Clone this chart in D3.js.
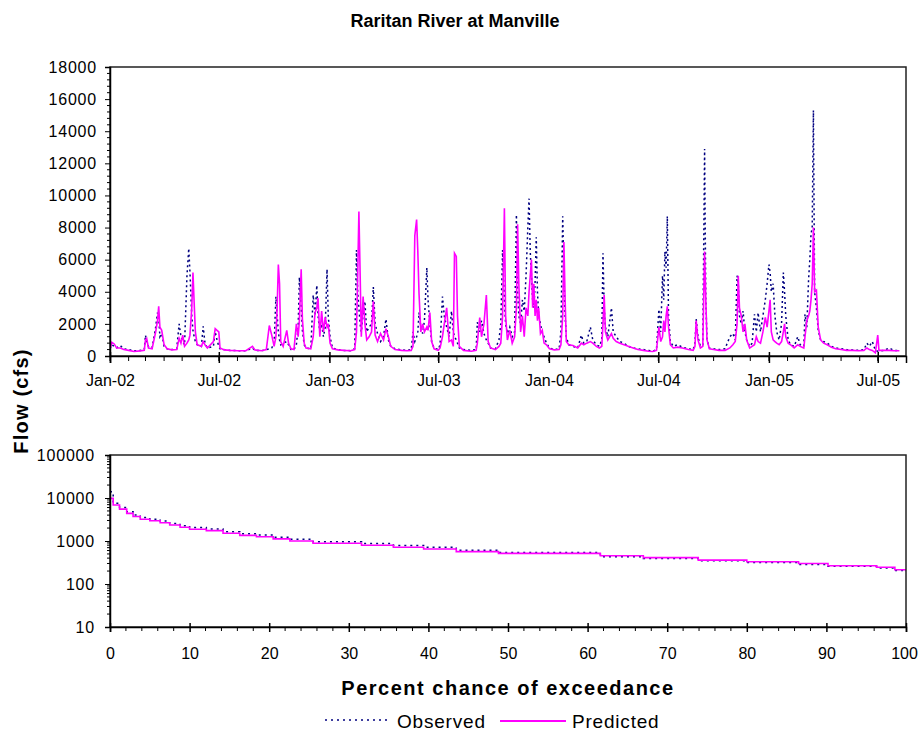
<!DOCTYPE html>
<html>
<head>
<meta charset="utf-8">
<script src="https://cdnjs.cloudflare.com/ajax/libs/d3/7.8.5/d3.min.js"></script>
<style>
  body { margin: 0; background: #fff; }
  svg { display: block; font-family: "Liberation Sans", Arial, sans-serif; }
  .axis path, .axis line { stroke: #000; }
  .axis text { font-size: 16px; fill: #000; }
  .axis.left text { letter-spacing: 0.8px; }
</style>
</head>
<body>
<div id="chart"></div>
<script>
// ---- data ----
var chartTitle = "Raritan River at Manville";
var seriesNames = ["Observed", "Predicted"];

// daily flow hydrograph (cfs), sampled at the days where the shape changes
var dates = [
  // 2002
  "2002-01-01","2002-01-04","2002-01-08","2002-01-12","2002-01-18","2002-01-24","2002-02-01","2002-02-10","2002-02-20","2002-02-27",
  "2002-03-01","2002-03-03","2002-03-06","2002-03-12","2002-03-18","2002-03-21","2002-03-23","2002-03-25","2002-03-28","2002-04-01",
  "2002-04-06","2002-04-14","2002-04-22","2002-04-26","2002-04-29","2002-05-02","2002-05-05","2002-05-09","2002-05-12","2002-05-14",
  "2002-05-17","2002-05-19","2002-05-21","2002-05-23","2002-05-26","2002-06-02","2002-06-05","2002-06-08","2002-06-12","2002-06-22",
  "2002-06-25","2002-06-28","2002-07-01","2002-07-03","2002-07-10","2002-07-20","2002-08-01","2002-08-15","2002-08-26","2002-08-30",
  "2002-09-10","2002-09-18","2002-09-23","2002-09-27","2002-10-01","2002-10-04","2002-10-06","2002-10-08","2002-10-10","2002-10-12",
  "2002-10-16","2002-10-22","2002-10-25","2002-10-29","2002-11-03","2002-11-07","2002-11-10","2002-11-12","2002-11-15","2002-11-17",
  "2002-11-20","2002-11-23","2002-12-01","2002-12-05","2002-12-08","2002-12-11","2002-12-13","2002-12-16","2002-12-19","2002-12-22",
  "2002-12-25","2002-12-28","2002-12-30",
  // 2003
  "2003-01-02","2003-01-06","2003-01-15","2003-01-25","2003-02-05","2003-02-12","2003-02-15","2003-02-17","2003-02-19","2003-02-21",
  "2003-02-23","2003-02-26","2003-03-01","2003-03-04","2003-03-08","2003-03-12","2003-03-15","2003-03-18","2003-03-22","2003-03-27",
  "2003-04-01","2003-04-05","2003-04-09","2003-04-13","2003-04-20","2003-05-01","2003-05-10","2003-05-17","2003-05-20","2003-05-23",
  "2003-05-26","2003-05-28","2003-05-30","2003-06-02","2003-06-05","2003-06-08","2003-06-12","2003-06-14","2003-06-17","2003-06-20",
  "2003-06-24","2003-07-01","2003-07-04","2003-07-08","2003-07-11","2003-07-15","2003-07-19","2003-07-23","2003-07-26","2003-07-28",
  "2003-07-31","2003-08-02","2003-08-05","2003-08-12","2003-08-25","2003-09-02","2003-09-04","2003-09-08","2003-09-11","2003-09-15",
  "2003-09-19","2003-09-22","2003-09-26","2003-10-04","2003-10-10","2003-10-13","2003-10-16","2003-10-19","2003-10-21","2003-10-24",
  "2003-10-28","2003-11-01","2003-11-05","2003-11-08","2003-11-10","2003-11-12","2003-11-15","2003-11-18","2003-11-21","2003-11-24",
  "2003-11-27","2003-11-29","2003-12-01","2003-12-03","2003-12-05","2003-12-07","2003-12-09","2003-12-11","2003-12-13","2003-12-15",
  "2003-12-18","2003-12-21","2003-12-24","2003-12-28",
  // 2004
  "2004-01-02","2004-01-10","2004-01-18","2004-01-21","2004-01-24","2004-01-26","2004-01-28","2004-01-30","2004-02-03","2004-02-10",
  "2004-02-18","2004-02-24","2004-02-28","2004-03-04","2004-03-10","2004-03-14","2004-03-20","2004-03-25","2004-03-29","2004-03-31",
  "2004-04-02","2004-04-04","2004-04-08","2004-04-14","2004-04-17","2004-04-22","2004-04-28","2004-05-05","2004-05-12","2004-05-20",
  "2004-05-28","2004-06-06","2004-06-15","2004-06-22","2004-06-28","2004-07-02","2004-07-05","2004-07-08","2004-07-10","2004-07-12",
  "2004-07-14","2004-07-16","2004-07-18","2004-07-21","2004-07-26","2004-08-02","2004-08-10","2004-08-20","2004-08-28","2004-08-31",
  "2004-09-02","2004-09-05","2004-09-09","2004-09-13","2004-09-16","2004-09-18","2004-09-20","2004-09-24","2004-10-01","2004-10-10",
  "2004-10-20","2004-10-28","2004-11-02","2004-11-06","2004-11-09","2004-11-11","2004-11-13","2004-11-16","2004-11-19","2004-11-22",
  "2004-11-25","2004-11-30","2004-12-04","2004-12-08","2004-12-11","2004-12-14","2004-12-18","2004-12-22","2004-12-26","2004-12-29",
  // 2005
  "2005-01-01","2005-01-03","2005-01-05","2005-01-08","2005-01-11","2005-01-14","2005-01-18","2005-01-22","2005-01-25","2005-01-27",
  "2005-01-29","2005-02-02","2005-02-06","2005-02-12","2005-02-18","2005-02-22","2005-02-28","2005-03-02","2005-03-05","2005-03-08",
  "2005-03-10","2005-03-12","2005-03-14","2005-03-16","2005-03-18","2005-03-21","2005-03-24","2005-03-28","2005-04-02","2005-04-08",
  "2005-04-15","2005-04-22","2005-05-01","2005-05-10","2005-05-20","2005-05-30","2005-06-08","2005-06-13","2005-06-17","2005-06-22",
  "2005-06-27","2005-07-01","2005-07-03","2005-07-12","2005-07-20","2005-07-28","2005-08-06"
];

var observed = [
  // 2002
  450,700,600,500,650,450,400,320,350,400,
  1300,900,600,500,1800,2700,2400,1200,1400,600,
  450,400,450,2000,1200,900,700,5000,6700,5200,
  2500,1600,1200,900,700,600,1850,800,500,600,
  1500,1000,600,450,400,350,330,320,500,350,
  330,400,450,500,800,3700,2500,1500,1000,700,
  800,900,700,400,400,700,1800,4900,3000,1600,
  700,500,450,3800,2500,4400,2500,1500,2000,1200,
  1800,5400,2500,
  // 2003
  1200,500,400,350,330,450,6600,4000,3000,2000,
  1500,2600,3400,1500,1800,2000,4300,2000,1400,900,
  1200,2300,1000,600,450,380,350,400,1500,900,
  1200,1500,2700,1800,1400,2200,5500,3500,2000,900,
  500,400,700,3700,2500,1800,1200,2800,1500,1200,
  1000,800,500,400,350,400,2100,1500,2200,1400,
  1000,800,500,450,1000,2000,6600,3500,2000,1400,
  1800,1200,1500,8800,4000,2500,2000,3500,2800,5000,
  8000,9800,6500,5000,3500,3000,4500,7400,4000,2500,
  2000,1400,1200,800,
  // 2004
  500,400,450,1500,8700,5000,2500,1200,700,600,
  500,1300,800,900,1800,1000,700,600,1000,6400,
  3000,1800,1200,3000,1500,1200,900,800,600,500,
  450,400,350,300,400,2900,1500,5000,3500,6500,
  5500,8700,2500,900,600,700,550,450,400,800,
  2300,1200,600,700,12900,3500,1000,500,450,400,
  450,1200,1400,1000,5000,4500,2500,2000,2800,1500,
  1000,600,800,2600,1500,2700,1500,2500,3500,4500,
  // 2005
  5700,5200,4000,4500,2500,1500,1000,2000,5200,4000,
  2500,1000,700,600,1200,700,600,2600,1800,4800,
  6000,7600,8000,15300,4000,3000,1600,1000,900,800,
  600,500,450,400,380,350,400,800,600,900,
  350,300,300,350,500,350,330
];

var predicted = [
  // 2002
  400,850,750,500,500,400,350,280,320,350,
  1000,1100,500,450,1500,2200,3100,1800,1600,700,
  450,380,400,1100,800,1300,600,800,1000,1300,
  3000,5200,3300,1500,700,600,900,700,500,900,
  1700,1600,1500,500,380,350,330,330,600,380,
  330,400,1900,1300,600,1200,3000,5700,4500,900,
  600,1600,800,450,400,2000,1200,2200,5400,2300,
  800,500,450,1200,2700,3000,3600,1200,2800,1500,
  2400,1800,2000,
  // 2003
  800,450,380,350,330,400,1500,5000,9000,5200,
  1200,3700,2000,1000,1200,1500,3400,1300,900,1400,
  1000,1700,1200,600,400,350,330,350,600,7500,
  8500,6500,3900,1500,2000,1500,1800,1600,2700,900,
  450,350,500,1200,2000,3000,900,1000,600,6400,
  6200,2500,600,350,300,350,800,2400,1200,2000,
  3800,900,500,400,600,800,2500,9200,2500,1000,
  1600,800,1200,3000,8200,4500,1500,2500,1200,3000,
  2500,4000,5000,6000,3000,4500,2500,3500,2200,3000,
  1400,1600,800,700,
  // 2004
  450,380,400,700,2500,7100,3500,900,700,650,
  500,800,700,800,900,800,600,500,600,2000,
  3800,1500,1000,1400,1100,900,800,700,600,500,
  400,350,300,280,350,1800,900,1200,2200,1500,
  2500,3100,1800,700,500,550,500,400,350,600,
  2200,1000,500,600,6500,3500,1000,450,400,350,
  350,500,700,900,2000,5000,3000,2500,1500,2000,
  1000,500,600,700,1200,900,800,1500,2400,1800,
  // 2005
  2800,3500,1500,1000,900,800,700,900,1500,2000,
  1200,800,700,500,700,600,500,1200,2200,2500,
  2800,3500,4500,8000,4000,4100,1800,1000,800,700,
  550,450,400,350,350,330,350,500,400,350,
  200,1300,350,350,350,330,330
];

// flow duration curve: percent chance of exceedance vs flow (cfs)
var exceedPct  = [0, 0.4, 1.2, 2.1, 2.9, 3.8, 5.0, 6.3, 7.5, 8.8, 10.0, 12.1, 14.2, 16.3, 18.4, 20.5,
                  22.6, 25.5, 31.6, 35.6, 39.4, 43.5, 48.8, 61.6, 67.0, 73.9, 80.0, 86.5, 90.2, 96.3, 98.6, 100];
var obsExceed  = [14000, 7500, 6000, 4800, 4000, 3500, 3200, 2900, 2550, 2250, 2050, 1900, 1650, 1480, 1380, 1230,
                  1100, 960, 870, 790, 720, 610, 540, 430, 390, 345, 315, 285, 260, 235, 205, 190];
var predExceed = [9800, 6900, 5500, 4400, 3700, 3200, 2950, 2650, 2350, 2080, 1870, 1740, 1510, 1350, 1260, 1120,
                  1000, 885, 795, 713, 652, 565, 515, 455, 410, 360, 330, 300, 266, 245, 215, 200];

var flowTicks = d3.range(0, 18001, 2000);
var logTicks = [10, 100, 1000, 10000, 100000];
var pctTicks = d3.range(0, 101, 10);

if (dates.length !== observed.length || dates.length !== predicted.length) {
  console.error("length mismatch", dates.length, observed.length, predicted.length);
}

// ---- drawing ----
var W = 919, H = 734;
var obsColor = "#000080", predColor = "#ff00ff";
var parseDate = d3.timeParse("%Y-%m-%d");

var svg = d3.select("#chart").append("svg")
  .attr("width", W).attr("height", H);

// plot areas
var boxTop = {left: 110, right: 906, top: 67, bottom: 356};
var boxBot = {left: 110, right: 906, top: 455, bottom: 627};

var defs = svg.append("defs");
defs.append("clipPath").attr("id", "clipTop")
  .append("rect").attr("x", boxTop.left).attr("y", boxTop.top - 2)
  .attr("width", boxTop.right - boxTop.left).attr("height", boxTop.bottom - boxTop.top + 2);
defs.append("clipPath").attr("id", "clipBot")
  .append("rect").attr("x", boxBot.left).attr("y", boxBot.top)
  .attr("width", boxBot.right - boxBot.left).attr("height", boxBot.bottom - boxBot.top);

// title
svg.append("text")
  .attr("x", 455).attr("y", 27)
  .attr("text-anchor", "middle")
  .attr("font-size", 18).attr("font-weight", "bold")
  .text(chartTitle);

// ===== top chart: hydrograph =====
var x = d3.scaleTime()
  .domain([parseDate("2002-01-01"), parseDate("2005-08-17")])
  .range([boxTop.left, boxTop.right]);
var y = d3.scaleLinear().domain([0, 18000]).range([boxTop.bottom, boxTop.top]);

var rows = dates.map(function(d, i) {
  return {date: parseDate(d), obs: observed[i], pred: predicted[i]};
});

var topG = svg.append("g").attr("clip-path", "url(#clipTop)");
topG.append("path").datum(rows)
  .attr("fill", "none").attr("stroke", obsColor).attr("stroke-width", 1.5)
  .attr("stroke-dasharray", "2,3")
  .attr("d", d3.line().x(function(d) { return x(d.date); }).y(function(d) { return y(d.obs); }));
topG.append("path").datum(rows)
  .attr("fill", "none").attr("stroke", predColor).attr("stroke-width", 1.6)
  .attr("d", d3.line().x(function(d) { return x(d.date); }).y(function(d) { return y(d.pred); }));

// frame
svg.append("rect")
  .attr("x", boxTop.left).attr("y", boxTop.top)
  .attr("width", boxTop.right - boxTop.left).attr("height", boxTop.bottom - boxTop.top)
  .attr("fill", "none").attr("stroke", "#222").attr("stroke-width", 1.5);

// y axis
svg.append("g").attr("class", "axis left")
  .attr("transform", "translate(" + boxTop.left + ",0)")
  .call(d3.axisLeft(y).tickValues(flowTicks).tickSize(5).tickPadding(8).tickFormat(d3.format("d")))
  .call(function(g) { g.select(".domain").attr("stroke-width", 1.5); });
svg.append("g").selectAll("line")
  .data(d3.range(0, 18001, 400).filter(function(v) { return v % 2000 !== 0; }))
  .enter().append("line")
  .attr("x1", boxTop.left - 3).attr("x2", boxTop.left)
  .attr("y1", function(d) { return y(d); }).attr("y2", function(d) { return y(d); })
  .attr("stroke", "#000");

// x axis (labels every 6 months, monthly minor ticks)
svg.append("g").attr("class", "axis")
  .attr("transform", "translate(0," + boxTop.bottom + ")")
  .call(d3.axisBottom(x).ticks(d3.timeMonth.every(6)).tickSize(7).tickPadding(12)
    .tickFormat(d3.timeFormat("%b-%y")))
  .call(function(g) {
    g.select(".domain").attr("stroke-width", 1.5);
    g.selectAll(".tick line").attr("y1", -4).attr("stroke-width", 1.5);
  });
svg.append("g").selectAll("line")
  .data(x.ticks(d3.timeMonth.every(1)))
  .enter().append("line")
  .attr("x1", function(d) { return x(d); }).attr("x2", function(d) { return x(d); })
  .attr("y1", boxTop.bottom).attr("y2", boxTop.bottom + 5)
  .attr("stroke", "#000");

// ===== bottom chart: duration curve =====
var xp = d3.scaleLinear().domain([0, 100]).range([boxBot.left, boxBot.right]);
var yl = d3.scaleLog().domain([10, 100000]).range([boxBot.bottom, boxBot.top]);

var botG = svg.append("g").attr("clip-path", "url(#clipBot)");
var stepLine = d3.line().curve(d3.curveStepAfter)
  .x(function(d, i) { return xp(exceedPct[i]); }).y(function(d) { return yl(d); });
botG.append("path").datum(obsExceed)
  .attr("fill", "none").attr("stroke", obsColor).attr("stroke-width", 1.5)
  .attr("stroke-dasharray", "2,4")
  .attr("d", stepLine);
botG.append("path").datum(predExceed)
  .attr("fill", "none").attr("stroke", predColor).attr("stroke-width", 1.6)
  .attr("d", stepLine);

svg.append("rect")
  .attr("x", boxBot.left).attr("y", boxBot.top)
  .attr("width", boxBot.right - boxBot.left).attr("height", boxBot.bottom - boxBot.top)
  .attr("fill", "none").attr("stroke", "#222").attr("stroke-width", 1.5);

svg.append("g").attr("class", "axis left")
  .attr("transform", "translate(" + boxBot.left + ",0)")
  .call(d3.axisLeft(yl).tickValues(logTicks).tickSize(5).tickPadding(10).tickFormat(d3.format("d")))
  .call(function(g) { g.select(".domain").attr("stroke-width", 1.5); });
var logMinor = [];
[10, 100, 1000, 10000].forEach(function(dec) {
  for (var k = 2; k < 10; k++) logMinor.push(dec * k);
});
svg.append("g").selectAll("line")
  .data(logMinor).enter().append("line")
  .attr("x1", boxBot.left - 3).attr("x2", boxBot.left)
  .attr("y1", function(d) { return yl(d); }).attr("y2", function(d) { return yl(d); })
  .attr("stroke", "#000");

svg.append("g").attr("class", "axis")
  .attr("transform", "translate(0," + boxBot.bottom + ")")
  .call(d3.axisBottom(xp).tickValues(pctTicks).tickSize(5).tickPadding(16).tickFormat(d3.format("d")))
  .call(function(g) {
    g.select(".domain").attr("stroke-width", 1.5);
    g.selectAll(".tick line").attr("y1", -4).attr("stroke-width", 1.5);
    // keep the last label inside the page, as in the reference
    g.selectAll(".tick text").filter(function(d) { return d === 100; }).attr("x", -2);
  });
svg.append("g").selectAll("line")
  .data(d3.range(2, 100, 2).filter(function(v) { return v % 10 !== 0; }))
  .enter().append("line")
  .attr("x1", function(d) { return xp(d); }).attr("x2", function(d) { return xp(d); })
  .attr("y1", boxBot.bottom).attr("y2", boxBot.bottom + 4)
  .attr("stroke", "#000");

// axis titles
svg.append("text")
  .attr("transform", "translate(28,401) rotate(-90)")
  .attr("text-anchor", "middle")
  .attr("font-size", 20).attr("font-weight", "bold").attr("letter-spacing", 1.2)
  .text("Flow (cfs)");
svg.append("text")
  .attr("x", 508).attr("y", 695)
  .attr("text-anchor", "middle")
  .attr("font-size", 20).attr("font-weight", "bold").attr("letter-spacing", 1.5)
  .text("Percent chance of exceedance");

// legend
var legend = svg.append("g");
legend.append("line")
  .attr("x1", 325).attr("x2", 388).attr("y1", 720).attr("y2", 720)
  .attr("stroke", obsColor).attr("stroke-width", 1.5).attr("stroke-dasharray", "2,4");
legend.append("text")
  .attr("x", 397).attr("y", 728).attr("font-size", 19).attr("letter-spacing", 0.8)
  .text(seriesNames[0]);
legend.append("line")
  .attr("x1", 500).attr("x2", 566).attr("y1", 721).attr("y2", 721)
  .attr("stroke", predColor).attr("stroke-width", 2);
legend.append("text")
  .attr("x", 572).attr("y", 728).attr("font-size", 19).attr("letter-spacing", 0.8)
  .text(seriesNames[1]);
</script>
</body>
</html>
